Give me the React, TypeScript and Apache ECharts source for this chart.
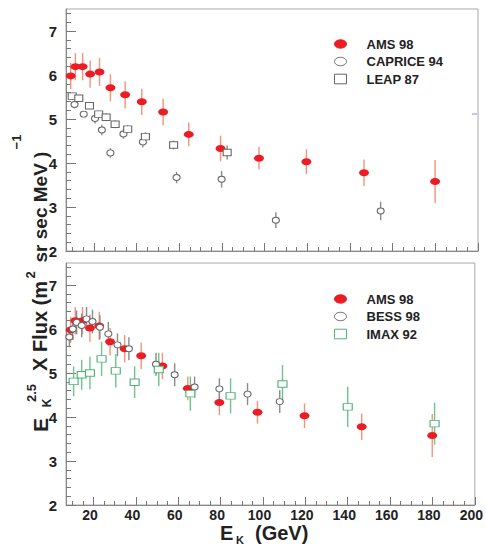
import React, { useEffect, useRef } from 'react';
import * as echarts from 'echarts';

// ---------- data ----------
const amsE = [9.2, 11.4, 14.8, 18.3, 22.7, 27.8, 34.7, 42.5, 52.5, 64.5, 79.4, 97.4, 119.6, 146.6, 179.9];
const amsF = [5.98, 6.19, 6.19, 6.02, 6.07, 5.71, 5.55, 5.39, 5.16, 4.65, 4.33, 4.11, 4.03, 3.78, 3.58];
const amsErr = [0.3, 0.31, 0.31, 0.31, 0.32, 0.31, 0.31, 0.3, 0.3, 0.27, 0.29, 0.26, 0.28, 0.3, 0.49];

const capriceE = [11.0, 15.3, 20.6, 23.8, 27.8, 33.9, 43.0, 58.8, 79.9, 105.3, 154.4];
const capriceF = [5.33, 5.11, 5.01, 4.75, 4.23, 4.66, 4.48, 3.67, 3.63, 2.7, 2.91];
const capriceErr = [0.09, 0.07, 0.11, 0.12, 0.11, 0.11, 0.13, 0.13, 0.19, 0.18, 0.21];

const leapE = [9.9, 13.0, 18.0, 22.3, 25.8, 30.0, 35.9, 44.2, 57.4, 82.5];
const leapF = [5.52, 5.47, 5.3, 5.11, 5.04, 4.88, 4.77, 4.6, 4.41, 4.24];
const leapErr = [0.08, 0.08, 0.08, 0.08, 0.09, 0.09, 0.09, 0.1, 0.1, 0.16];

const bessE = [8.6, 10.2, 12.0, 14.4, 16.7, 19.5, 23.0, 27.0, 31.3, 36.7, 49.5, 58.3, 67.7, 79.4, 92.7, 107.9];
const bessF = [5.82, 6.0, 6.15, 6.08, 6.23, 6.17, 6.04, 5.89, 5.64, 5.55, 5.2, 4.96, 4.68, 4.64, 4.52, 4.35];
const bessErr = [0.22, 0.25, 0.27, 0.27, 0.27, 0.27, 0.27, 0.27, 0.26, 0.26, 0.26, 0.26, 0.24, 0.24, 0.25, 0.26];

const imaxE = [10.6, 14.4, 18.3, 23.8, 30.5, 39.4, 50.8, 65.7, 84.7, 109.2, 140.0, 181.0];
const imaxF = [4.81, 4.96, 5.0, 5.32, 5.05, 4.79, 5.08, 4.53, 4.48, 4.75, 4.23, 3.85];
const imaxErr = [0.34, 0.34, 0.37, 0.39, 0.38, 0.36, 0.38, 0.39, 0.4, 0.43, 0.46, 0.48];

const xMajorTicks = [20, 40, 60, 80, 100, 120, 140, 160, 180, 200];
const xMinorTicks = [10, 15, 25, 30, 35, 45, 50, 55, 65, 70, 75, 85, 90, 95, 105, 110, 115, 125, 130, 135, 145, 150, 155, 165, 170, 175, 185, 190, 195];
const yMajorTicks = [2, 3, 4, 5, 6, 7];
const yMinorTicks = [2.2, 2.4, 2.6, 2.8, 3.2, 3.4, 3.6, 3.8, 4.2, 4.4, 4.6, 4.8, 5.2, 5.4, 5.6, 5.8, 6.2, 6.4, 6.6, 6.8, 7.2, 7.4];

const X_MIN = 7;
const X_MAX = 200;
const Y_MIN = 2;
const Y_MAX = 7.5;

const FONT = '"Liberation Sans", Arial, Helvetica, sans-serif';
const ELLIPSE = 'path://M0,5A5,5,0,1,1,10,5A5,5,0,1,1,0,5Z';

const RED = '#ec1c24';
const RED_ERR = '#f2947a';
const GRAY = '#666666';
const GRAY_ERR = '#8a8a8a';
const GREEN = '#4fb477';
const GREEN_ERR = '#6cc48c';

function errSeries(name: string, E: number[], F: number[], Err: number[], color: string, xi: number, yi: number) {
  return {
    type: 'custom',
    name: name + ' err',
    coordinateSystem: 'cartesian2d',
    xAxisIndex: xi,
    yAxisIndex: yi,
    data: E.map((e, i) => [e, F[i], Err[i]]),
    encode: { x: 0, y: 1 },
    silent: true,
    z: 2,
    renderItem: (params: any, api: any) => {
      const x = api.value(0);
      const y = api.value(1);
      const d = api.value(2);
      const a = api.coord([x, y - d]);
      const b = api.coord([x, y + d]);
      return {
        type: 'line',
        shape: { x1: a[0], y1: a[1], x2: b[0], y2: b[1] },
        style: { stroke: color, lineWidth: 1.4 },
      };
    },
  };
}

function markSeries(name: string, E: number[], F: number[], symbol: string, size: number[], fill: string, stroke: string | null, xi: number, yi: number) {
  return {
    type: 'scatter',
    name,
    xAxisIndex: xi,
    yAxisIndex: yi,
    data: E.map((e, i) => [e, F[i]]),
    symbol,
    symbolSize: size,
    silent: true,
    z: 3,
    itemStyle: { color: fill, borderColor: stroke || fill, borderWidth: stroke ? 1 : 0, opacity: 1 },
  };
}

function makeXAxes(gridIndex: number, showLabels: boolean) {
  return [
    {
      type: 'value', gridIndex, min: X_MIN, max: X_MAX, position: 'bottom',
      axisLine: { show: true, lineStyle: { color: '#888', width: 1 } },
      axisTick: { show: true, inside: true, length: 8, customValues: xMajorTicks, lineStyle: { color: '#777', width: 1 } },
      axisLabel: {
        show: showLabels, customValues: xMajorTicks, margin: 3, padding: [0, 7, 0, 0],
        fontFamily: FONT, fontWeight: 'bold', fontSize: 14, color: '#222',
      },
      splitLine: { show: false },
    },
    {
      type: 'value', gridIndex, min: X_MIN, max: X_MAX, position: 'bottom',
      axisLine: { show: false },
      axisTick: { show: true, inside: true, length: 4, customValues: xMinorTicks, lineStyle: { color: '#777', width: 1 } },
      axisLabel: { show: false },
      splitLine: { show: false },
    },
  ];
}

function makeYAxes(gridIndex: number) {
  return [
    {
      type: 'value', gridIndex, min: Y_MIN, max: Y_MAX, position: 'left',
      axisLine: { show: true, lineStyle: { color: '#888', width: 1 } },
      axisTick: { show: true, inside: true, length: 10, customValues: yMajorTicks, lineStyle: { color: '#777', width: 1 } },
      axisLabel: {
        show: true, customValues: yMajorTicks, margin: 9,
        fontFamily: FONT, fontWeight: 'bold', fontSize: 15, color: '#222',
      },
      splitLine: { show: false },
    },
    {
      type: 'value', gridIndex, min: Y_MIN, max: Y_MAX, position: 'left',
      axisLine: { show: false },
      axisTick: { show: true, inside: true, length: 5, customValues: yMinorTicks, lineStyle: { color: '#777', width: 1 } },
      axisLabel: { show: false },
      splitLine: { show: false },
    },
  ];
}

function legendBlock(top: number, items: { label: string; kind: string; fill: string; stroke: string }[]) {
  const els: any[] = [];
  items.forEach((it, i) => {
    const cy = top + i * 17.5;
    if (it.kind === 'ellipse') {
      els.push({ type: 'ellipse', shape: { cx: 340.5, cy, rx: 6, ry: 4.2 }, style: { fill: it.fill, stroke: it.stroke, lineWidth: 1 }, silent: true });
    } else {
      els.push({ type: 'rect', shape: { x: 334.5, y: cy - 4.8, width: 12, height: 9.6 }, style: { fill: it.fill, stroke: it.stroke, lineWidth: 1 }, silent: true });
    }
    els.push({
      type: 'text', x: 366.5, y: cy, silent: true,
      style: { text: it.label, fill: '#222', font: `bold 13px ${FONT}`, textAlign: 'left', textVerticalAlign: 'middle' },
    });
  });
  return els;
}

function rotText(text: string, x: number, y: number, size: number) {
  return {
    type: 'text', x, y, rotation: Math.PI / 2, silent: true,
    style: { text, fill: '#222', font: `bold ${size}px ${FONT}`, textAlign: 'center', textVerticalAlign: 'middle' },
  };
}

function plainText(text: string, x: number, y: number, size: number) {
  return {
    type: 'text', x, y, silent: true,
    style: { text, fill: '#222', font: `bold ${size}px ${FONT}`, textAlign: 'left', textVerticalAlign: 'middle' },
  };
}

export default function App() {
  const ref = useRef<HTMLDivElement>(null);
  useEffect(() => {
    if (!ref.current) return;
    const chart = echarts.init(ref.current, undefined, { renderer: 'svg' });
    const option: any = {
      animation: false,
      backgroundColor: '#ffffff',
      grid: [
        { left: 66, right: 8, top: 9, height: 242, show: true, borderColor: '#a8a8a8', borderWidth: 1, backgroundColor: 'transparent' },
        { left: 66, right: 8, top: 263, height: 242, show: true, borderColor: '#a8a8a8', borderWidth: 1, backgroundColor: 'transparent' },
      ],
      xAxis: [...makeXAxes(0, false), ...makeXAxes(1, true)],
      yAxis: [...makeYAxes(0), ...makeYAxes(1)],
      series: [
        // top panel
        errSeries('AMS 98', amsE, amsF, amsErr, RED_ERR, 0, 0),
        markSeries('AMS 98', amsE, amsF, ELLIPSE, [10, 7], RED, null, 0, 0),
        errSeries('CAPRICE 94', capriceE, capriceF, capriceErr, GRAY_ERR, 0, 0),
        markSeries('CAPRICE 94', capriceE, capriceF, ELLIPSE, [7, 6], '#ffffff', GRAY, 0, 0),
        errSeries('LEAP 87', leapE, leapF, leapErr, GRAY_ERR, 0, 0),
        markSeries('LEAP 87', leapE, leapF, 'rect', [8, 6.5], '#ffffff', GRAY, 0, 0),
        // bottom panel
        errSeries('AMS 98 b', amsE, amsF, amsErr, RED_ERR, 2, 2),
        markSeries('AMS 98 b', amsE, amsF, ELLIPSE, [10, 7], RED, null, 2, 2),
        errSeries('BESS 98', bessE, bessF, bessErr, GRAY_ERR, 2, 2),
        markSeries('BESS 98', bessE, bessF, ELLIPSE, [7, 6], '#ffffff', GRAY, 2, 2),
        errSeries('IMAX 92', imaxE, imaxF, imaxErr, GREEN_ERR, 2, 2),
        markSeries('IMAX 92', imaxE, imaxF, 'rect', [9, 6.5], '#ffffff', GREEN, 2, 2),
      ],
      graphic: [
        ...legendBlock(44, [
          { label: 'AMS 98', kind: 'ellipse', fill: RED, stroke: RED },
          { label: 'CAPRICE 94', kind: 'ellipse', fill: '#ffffff', stroke: GRAY },
          { label: 'LEAP 87', kind: 'rect', fill: '#ffffff', stroke: GRAY },
        ]),
        ...legendBlock(299, [
          { label: 'AMS 98', kind: 'ellipse', fill: RED, stroke: RED },
          { label: 'BESS 98', kind: 'ellipse', fill: '#ffffff', stroke: GRAY },
          { label: 'IMAX 92', kind: 'rect', fill: '#ffffff', stroke: GREEN },
        ]),
        // y-axis title
        rotText('E', 40, 425, 21),
        rotText('K', 47, 403, 12),
        rotText('2.5', 31, 393, 13),
        rotText('X Flux (m', 40, 326, 20),
        rotText('2', 30, 275, 13),
        rotText('sr sec MeV )', 40, 207, 19),
        rotText('\u22121', 16, 142, 13),
        // x-axis title
        plainText('E', 220, 533, 20),
        plainText('K', 236, 540, 11),
        plainText('(GeV)', 255, 533, 20),
        // small stray mark on the right frame
        { type: 'line', shape: { x1: 472, y1: 114, x2: 477, y2: 114 }, style: { stroke: '#8c8cdc', lineWidth: 1 }, silent: true },
      ],
    };
    chart.setOption(option);
    return () => chart.dispose();
  }, []);
  return (
    <div
      ref={ref}
      style={{ position: 'fixed', left: 0, top: 0, width: 486, height: 547, background: '#fff' }}
    />
  );
}
